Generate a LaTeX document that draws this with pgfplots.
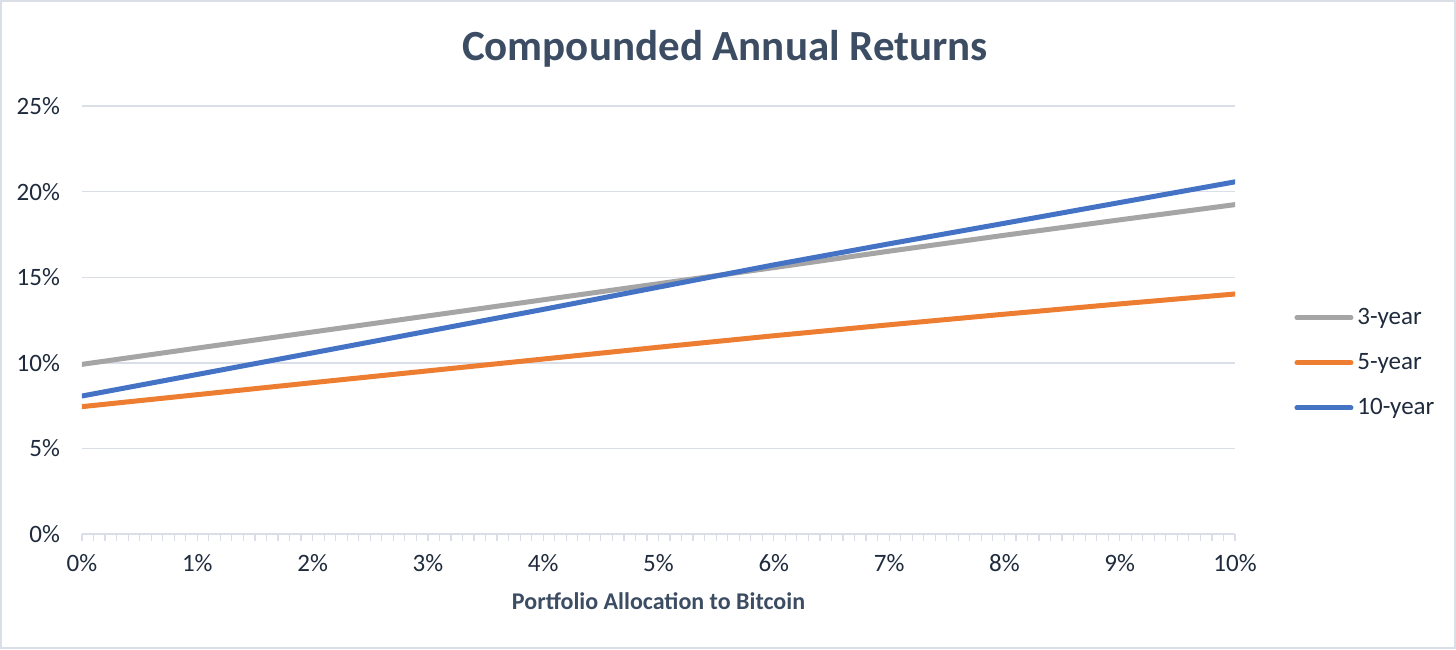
\documentclass[border=0pt]{standalone}
\usepackage{fontspec}
\setmainfont{Carlito}
\usepackage{pgfplots}
\pgfplotsset{compat=1.18}
\definecolor{c3}{HTML}{A5A5A5}
\definecolor{c5}{HTML}{ED7D31}
\definecolor{c10}{HTML}{4472C4}
\definecolor{titlec}{HTML}{3B4C63}
\definecolor{tickc}{HTML}{1F2B3D}
\definecolor{gridc}{HTML}{D9DEE7}
\begin{document}
\begin{tikzpicture}
\useasboundingbox (0,0) rectangle (728pt,324.5pt);
\draw[gridc, line width=1pt] (0.5pt,0.5pt) rectangle (727.5pt,324pt);
\node[font=\bfseries\fontsize{21.5}{24}\selectfont, text=titlec] at (362.5pt,300pt) {Compounded Annual Returns};
\begin{axis}[
  at={(41pt,57.5pt)}, anchor=south west,
  scale only axis, width=576.5pt, height=214pt,
  xmin=0, xmax=10, ymin=0, ymax=25,
  xtick={0,...,10}, minor x tick num=9,
  xticklabels={0\%,1\%,2\%,3\%,4\%,5\%,6\%,7\%,8\%,9\%,10\%},
  ytick={0,5,...,25},
  yticklabels={0\%,5\%,10\%,15\%,20\%,25\%},
  axis lines*=left,
  x axis line style={draw=gridc, line width=0.8pt, -},
  y axis line style={draw=none},
  ytick style={draw=none},
  xtick style={draw=gridc, line width=0.6pt},
  minor x tick style={draw=gridc, line width=0.6pt},
  tick align=outside,
  major tick length=3.5pt, minor tick length=3.5pt,
  ymajorgrids, grid style={gridc, line width=0.7pt},
  ticklabel style={font=\fontsize{12.5}{14}\selectfont, text=tickc},
  xticklabel style={yshift=-3pt},
  yticklabel style={xshift=-4pt},
  xlabel={Portfolio Allocation to Bitcoin},
  xlabel style={font=\bfseries\fontsize{12}{14}\selectfont, text=titlec, yshift=-4pt},
  legend style={at={(1.046,0.4)}, anchor=west, draw=none, fill=none,
    font=\fontsize{12.5}{14}\selectfont, text=tickc, row sep=9pt,
    /tikz/every even column/.append style={column sep=0pt}},
  legend cell align=left,
  legend image code/.code={\draw[#1, line width=2.5pt, line cap=round] (0pt,0pt) -- (27pt,0pt);},
  every axis plot/.append style={line width=2.5pt, line cap=round, line join=round, mark=none},
]
\addplot[c3] coordinates {(0,9.91) (1,10.86) (2,11.8) (3,12.74) (4,13.68) (5,14.62) (6,15.56) (7,16.52) (8,17.45) (9,18.35) (10,19.24)};
\addlegendentry{3-year}
\addplot[c5] coordinates {(0,7.44) (1,8.14) (2,8.84) (3,9.53) (4,10.22) (5,10.91) (6,11.58) (7,12.22) (8,12.84) (9,13.44) (10,14.02)};
\addlegendentry{5-year}
\addplot[c10] coordinates {(0,8.06) (1,9.32) (2,10.58) (3,11.85) (4,13.12) (5,14.42) (6,15.72) (7,16.95) (8,18.15) (9,19.36) (10,20.57)};
\addlegendentry{10-year}
\end{axis}
\end{tikzpicture}
\end{document}
